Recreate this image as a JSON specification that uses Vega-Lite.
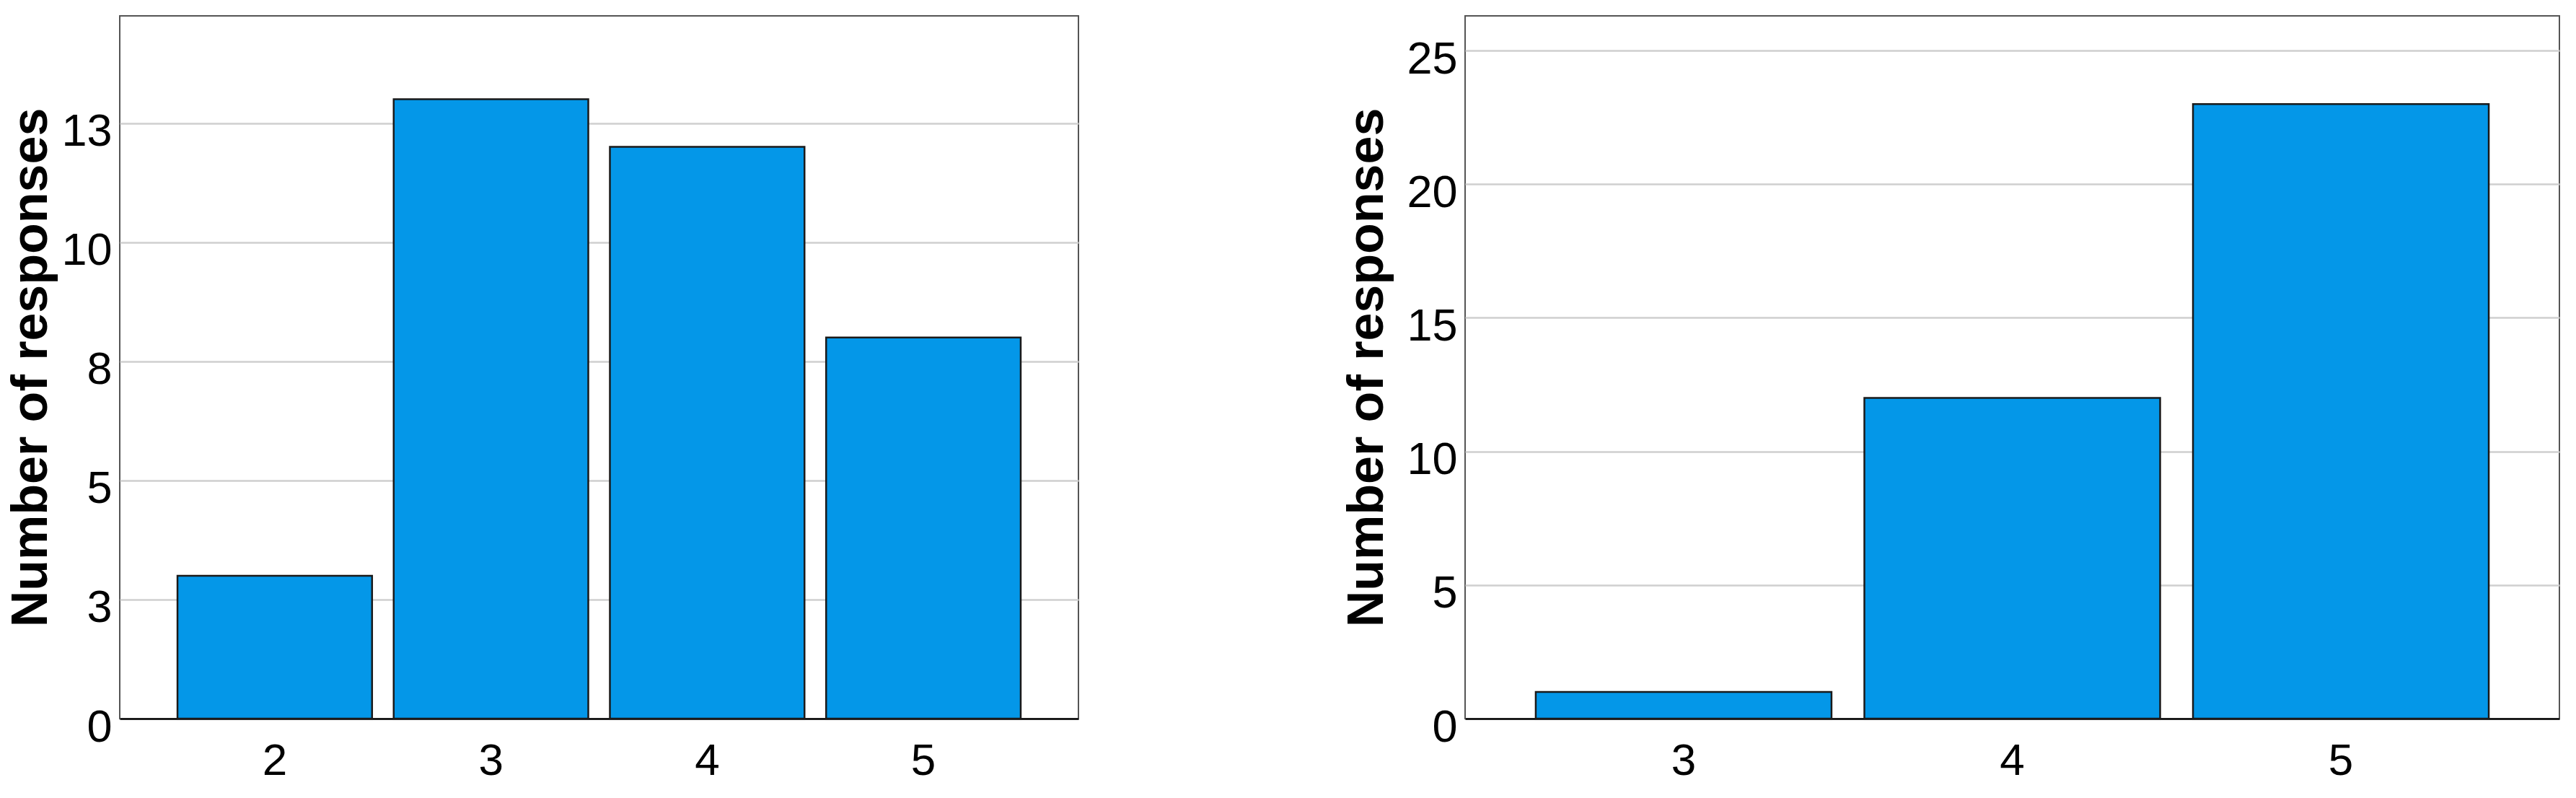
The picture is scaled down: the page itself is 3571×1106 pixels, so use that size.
{
  "$schema": "https://vega.github.io/schema/vega-lite/v6.json",
  "padding": {"left": 7, "top": 21, "right": 0, "bottom": 0},
  "background": "white",
  "bounds": "flush",
  "spacing": 536,
  "datasets": {
    "left": [
      {"rating": "2", "count": 3},
      {"rating": "3", "count": 13},
      {"rating": "4", "count": 12},
      {"rating": "5", "count": 8}
    ],
    "right": [
      {"rating": "3", "count": 1},
      {"rating": "4", "count": 12},
      {"rating": "5", "count": 23}
    ]
  },
  "config": {
    "view": {"stroke": "#555555", "strokeWidth": 2},
    "axis": {
      "labelFont": "Liberation Sans",
      "labelColor": "#000000",
      "titleFont": "Liberation Sans",
      "titleFontWeight": "bold",
      "titleColor": "#000000",
      "ticks": false,
      "gridColor": "#cfcfcf",
      "gridWidth": 2.5
    }
  },
  "hconcat": [
    {
      "width": 1329,
      "height": 974,
      "data": {"name": "left"},
      "mark": {"type": "bar", "color": "#0497e8", "stroke": "#1a1a1a", "strokeWidth": 2.5},
      "encoding": {
        "x": {
          "field": "rating",
          "type": "nominal",
          "sort": ["2", "3", "4", "5"],
          "scale": {"paddingInner": 0.1, "paddingOuter": 0.267},
          "axis": {
            "title": null,
            "labelAngle": 0,
            "labelFontSize": 62,
            "labelPadding": 28,
            "grid": false,
            "domainColor": "#000000",
            "domainWidth": 2.5
          }
        },
        "y": {
          "field": "count",
          "type": "quantitative",
          "scale": {"domain": [0, 14.75], "nice": false},
          "axis": {
            "title": "Number of responses",
            "titleFontSize": 70,
            "titleX": -102,
            "titleY": 487,
            "titleBaseline": "alphabetic",
            "values": [0, 2.5, 5, 7.5, 10, 12.5],
            "format": "d",
            "labelFontSize": 63,
            "labelPadding": 11,
            "labelOffset": 12,
            "domain": false,
            "grid": true
          }
        }
      }
    },
    {
      "width": 1517,
      "height": 974,
      "data": {"name": "right"},
      "mark": {"type": "bar", "color": "#0497e8", "stroke": "#1a1a1a", "strokeWidth": 2.5},
      "encoding": {
        "x": {
          "field": "rating",
          "type": "nominal",
          "sort": ["3", "4", "5"],
          "scale": {"paddingInner": 0.1, "paddingOuter": 0.215},
          "axis": {
            "title": null,
            "labelAngle": 0,
            "labelFontSize": 62,
            "labelPadding": 28,
            "grid": false,
            "domainColor": "#000000",
            "domainWidth": 2.5
          }
        },
        "y": {
          "field": "count",
          "type": "quantitative",
          "scale": {"domain": [0, 26.3], "nice": false},
          "axis": {
            "title": "Number of responses",
            "titleFontSize": 70,
            "titleX": -115,
            "titleY": 487,
            "titleBaseline": "alphabetic",
            "values": [0, 5, 10, 15, 20, 25],
            "format": "d",
            "labelFontSize": 63,
            "labelPadding": 11,
            "labelOffset": 12,
            "domain": false,
            "grid": true
          }
        }
      }
    }
  ]
}
